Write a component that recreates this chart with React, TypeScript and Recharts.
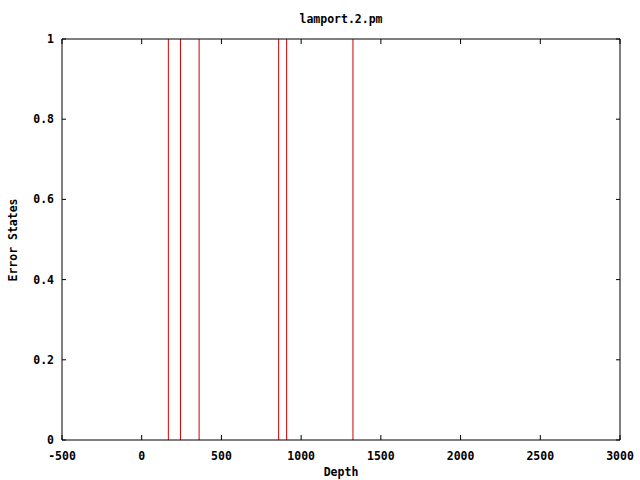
import { ComposedChart, XAxis, YAxis, ReferenceLine, Scatter } from "recharts";

// depths where an error state was hit
const errorDepths = [167, 243, 360, 859, 909, 1325];
const errorValues = [1, 1, 1, 1, 1, 1];

const xTicks = [-500, 0, 500, 1000, 1500, 2000, 2500, 3000];
const yTicks = [0, 0.2, 0.4, 0.6, 0.8, 1];

const chartTitle = "lamport.2.pm";
const xTitle = "Depth";
const yTitle = "Error States";

const FONT = "'DejaVu Sans Mono', 'Liberation Mono', monospace";

const data = errorDepths.map((depth, i) => ({ depth, value: errorValues[i] }));

const tickStyle = { fill: "#000", fontFamily: FONT, fontSize: 11.5, fontWeight: 700 };
const X_DOMAIN: [number, number] = [-500, 3000];
const Y_DOMAIN: [number, number] = [0, 1];

const noShape = () => <g />;
const blank = () => "";

export default function App() {
  return (
    <div
      style={{
        position: "absolute",
        left: 0,
        top: 0,
        width: 640,
        height: 480,
        background: "#fff",
        fontFamily: FONT,
        fontWeight: 700,
        fontSize: 11.5,
        color: "#000",
      }}
    >
      <ComposedChart
        width={640}
        height={480}
        data={data}
        margin={{ top: 39, right: 20, bottom: 0, left: 0 }}
      >
        {/* label axes */}
        <XAxis
          dataKey="depth"
          type="number"
          domain={X_DOMAIN}
          ticks={xTicks}
          allowDataOverflow
          height={40}
          tickLine={false}
          axisLine={false}
          tickSize={0}
          tickMargin={12}
          tick={tickStyle}
        />
        <YAxis
          dataKey="value"
          type="number"
          domain={Y_DOMAIN}
          ticks={yTicks}
          allowDataOverflow
          width={62}
          tickLine={false}
          axisLine={false}
          tickSize={0}
          tickMargin={8}
          tick={tickStyle}
        />
        {/* frame with inward ticks on all four sides */}
        <XAxis
          xAxisId="bm"
          dataKey="depth"
          type="number"
          domain={X_DOMAIN}
          ticks={xTicks}
          allowDataOverflow
          mirror
          height={1}
          tickSize={5}
          tickFormatter={blank}
          tickLine={{ stroke: "#000" }}
          stroke="#000"
        />
        <XAxis
          xAxisId="tm"
          orientation="top"
          dataKey="depth"
          type="number"
          domain={X_DOMAIN}
          ticks={xTicks}
          allowDataOverflow
          mirror
          height={1}
          tickSize={5}
          tickFormatter={blank}
          tickLine={{ stroke: "#000" }}
          stroke="#000"
        />
        <YAxis
          yAxisId="lm"
          dataKey="value"
          type="number"
          domain={Y_DOMAIN}
          ticks={yTicks}
          allowDataOverflow
          mirror
          width={1}
          tickSize={4}
          tickFormatter={blank}
          tickLine={{ stroke: "#000" }}
          stroke="#000"
        />
        <YAxis
          yAxisId="rm"
          orientation="right"
          dataKey="value"
          type="number"
          domain={Y_DOMAIN}
          ticks={yTicks}
          allowDataOverflow
          mirror
          width={1}
          tickSize={4}
          tickFormatter={blank}
          tickLine={{ stroke: "#000" }}
          stroke="#000"
        />
        <Scatter xAxisId="bm" yAxisId="lm" dataKey="value" shape={noShape} isAnimationActive={false} />
        <Scatter xAxisId="tm" yAxisId="rm" dataKey="value" shape={noShape} isAnimationActive={false} />
        {data.map((d) => (
          <ReferenceLine
            key={d.depth}
            segment={[
              { x: d.depth, y: 0 },
              { x: d.depth, y: d.value },
            ]}
            stroke="#cc0000"
            strokeWidth={1}
            ifOverflow="hidden"
          />
        ))}
      </ComposedChart>
      <div
        style={{ position: "absolute", left: 62, width: 558, top: 12, textAlign: "center" }}
      >
        {chartTitle}
      </div>
      <div
        style={{ position: "absolute", left: 62, width: 558, top: 465, textAlign: "center" }}
      >
        {xTitle}
      </div>
      <div
        style={{
          position: "absolute",
          left: 13,
          top: 240,
          transform: "translate(-50%, -50%) rotate(-90deg)",
          whiteSpace: "nowrap",
        }}
      >
        {yTitle}
      </div>
    </div>
  );
}
